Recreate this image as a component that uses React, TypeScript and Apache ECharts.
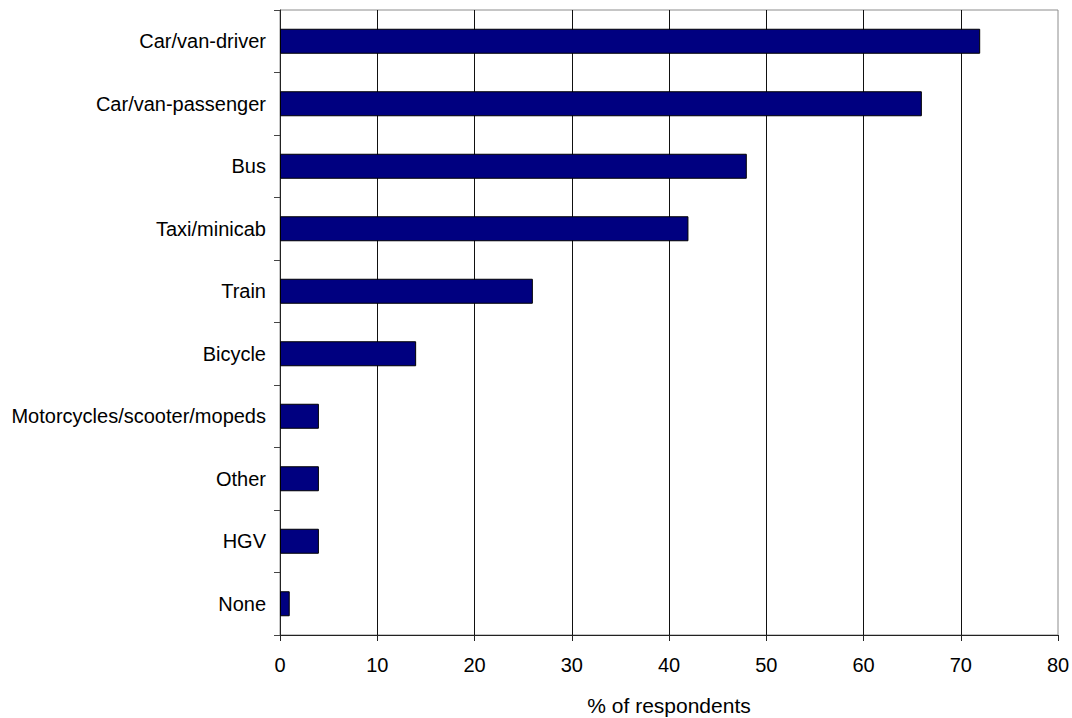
import React, { useEffect, useRef } from "react";
import * as echarts from "echarts";

// Modes of transport, top to bottom
const categories: string[] = [
  "Car/van-driver",
  "Car/van-passenger",
  "Bus",
  "Taxi/minicab",
  "Train",
  "Bicycle",
  "Motorcycles/scooter/mopeds",
  "Other",
  "HGV",
  "None",
];

// Share of respondents (%) for each mode
const respondents: number[] = [72, 66, 48, 42, 26, 14, 4, 4, 4, 1];

const xMin = 0;
const xMax = 80;
const xStep = 10;
const xTitle = "% of respondents";

const FONT = "'Liberation Sans', Arial, Helvetica, sans-serif";

export default function App() {
  const ref = useRef<HTMLDivElement>(null);

  useEffect(() => {
    if (!ref.current) return;
    const chart = echarts.init(ref.current, undefined, { renderer: "svg" });
    chart.setOption({
      animation: false,
      backgroundColor: "#ffffff",
      textStyle: { fontFamily: FONT, color: "#000" },
      grid: {
        left: 280,
        right: 14,
        top: 10,
        bottom: 83,
        show: true,
        borderColor: "#8c8c8c",
        borderWidth: 1,
        containLabel: false,
        outerBoundsMode: "none",
      },
      xAxis: {
        type: "value",
        min: xMin,
        max: xMax,
        interval: xStep,
        name: xTitle,
        nameLocation: "middle",
        nameGap: 60,
        nameTextStyle: { fontFamily: FONT, fontSize: 21, color: "#000" },
        axisLine: { show: true, lineStyle: { color: "#222", width: 1 } },
        axisTick: { show: true, length: 6, lineStyle: { color: "#222" } },
        axisLabel: { fontFamily: FONT, fontSize: 20, color: "#000", margin: 20 },
        splitLine: {
          show: true,
          showMinLine: false,
          showMaxLine: false,
          lineStyle: { color: "#111", width: 1 },
        },
      },
      yAxis: {
        type: "category",
        data: categories,
        inverse: true,
        axisLine: { show: true, lineStyle: { color: "#222", width: 1 } },
        axisTick: { show: true, length: 6, alignWithLabel: false, lineStyle: { color: "#444" } },
        axisLabel: { fontFamily: FONT, fontSize: 20, color: "#000", margin: 14 },
        splitLine: { show: false },
      },
      series: [
        {
          type: "bar",
          data: respondents,
          barCategoryGap: "60%",
          itemStyle: { color: "#000080", borderColor: "#000", borderWidth: 1 },
        },
      ],
    });
    return () => chart.dispose();
  }, []);

  return (
    <div
      ref={ref}
      style={{ position: "absolute", left: 0, top: 0, width: 1072, height: 718 }}
    />
  );
}
